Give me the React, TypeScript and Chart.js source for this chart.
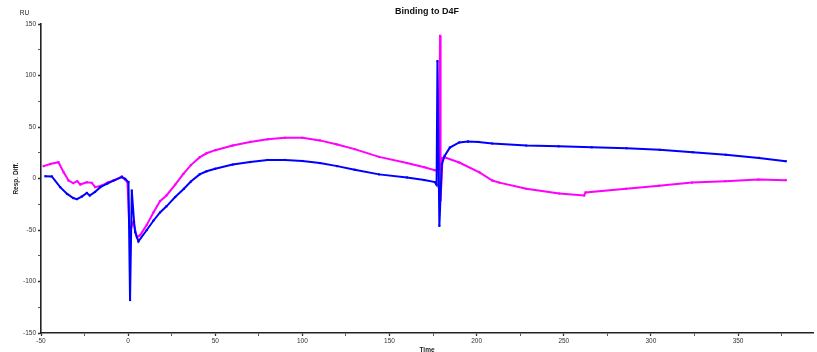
import React, { useEffect, useRef } from "react";
import { Chart, registerables } from "chart.js";

Chart.register(...registerables);

const chartTitle = "Binding to D4F";
const xTitle = "Time";
const yTitle = "Resp. Diff.";
const yUnit = "RU";

const blueTime = [-47.5, -43.8, -39, -35, -31.5, -29.4, -26.6, -23.7, -22, -19, -16, -12, -8.4, -3.6, -1.7, 0.2, 1.1, 2.1, 3.4, 4, 5.9, 10.7, 14.5, 18.3, 22, 27, 32, 36, 41, 45, 50, 60, 70, 80, 90, 100, 110, 120, 130, 144, 160, 170, 176, 177, 177.5, 178.6, 180, 181.6, 184.6, 190, 195, 201, 209, 228.5, 247, 266, 286, 305, 324, 343, 362, 377.4];
const blueResp = [2.2, 2, -8.4, -15, -19, -20, -17.5, -14, -16.5, -13, -8.4, -5, -2, 1.3, -0.3, -3.5, -118, -11.6, -42, -52, -61, -50, -41, -33, -27, -18, -10, -3, 4, 7, 9.5, 13.5, 16, 18, 18, 17, 15, 12, 8.5, 4, 1, -1.5, -3.5, -6, 114, -46, 14, 22, 30, 35, 36, 35.5, 34, 32, 31.2, 30.3, 29.4, 27.8, 25.5, 23, 20, 16.8];

const magentaTime = [-48.5, -44.7, -40, -37, -34.2, -31.5, -29.2, -27.5, -23.7, -20.8, -18.9, -15, -11.3, -7.4, -3.6, -0.4, 0.7, 1.7, 3, 5, 6.9, 10.7, 14.5, 18.3, 22, 27, 31.7, 36, 41, 45, 50, 60, 70, 80, 90, 100, 110, 120, 130, 144, 160, 170, 176, 178.2, 179, 179.3, 180.4, 181.6, 190, 201.6, 209, 213, 228.5, 247.4, 261.7, 262.5, 285.8, 304.7, 323.6, 342.7, 361.6, 377.4];
const magentaResp = [12, 14, 15.8, 6, -2, -4.5, -2.6, -5.8, -3.6, -4.2, -8.4, -6.8, -3.6, -1.3, 2, -3.6, -47, -48, -42, -57, -55, -45, -33, -22, -16.5, -6, 4.5, 13, 20.5, 24.5, 27.5, 32, 35.5, 38, 39.5, 39.5, 37, 33, 28.5, 21, 15, 11, 8, 9, 138.6, -21, 20, 20.6, 15.5, 6, -2, -4, -10, -14.5, -16.5, -13.5, -10, -7, -4, -2.6, -1, -1.6];

const xMin = -50;
const xMax = 393;
const yMin = -150;
const yMax = 150;

const FONT = "'Liberation Sans', Arial, sans-serif";

function pts(xs: number[], ys: number[]) {
  return xs.map((x, i) => ({ x, y: ys[i] }));
}

const unitLabel = {
  id: "unitLabel",
  afterDraw(chart: any) {
    const ctx = chart.ctx;
    const ya = chart.scales.y;
    ctx.save();
    ctx.font = `6.5px ${FONT}`;
    ctx.fillStyle = "#222";
    ctx.textAlign = "center";
    ctx.textBaseline = "middle";
    ctx.fillText(yUnit, ya.left + 24.5, ya.top - 10.5);
    ctx.restore();
  },
};

const tickW = (c: any) => {
  const v = c.tick ? c.tick.value : 0;
  if (v % 50 === 0) return 1.3;
  if (v % 25 === 0) return 0.8;
  return 0;
};

export default function App() {
  const ref = useRef<HTMLCanvasElement>(null);
  useEffect(() => {
    if (!ref.current) return;
    const common = {
      borderWidth: 2,
      pointStyle: "rect",
      pointRadius: 1.5,
      pointBorderWidth: 0,
      tension: 0,
    };
    const chart = new Chart(ref.current, {
      type: "line",
      data: {
        datasets: [
          {
            label: "blue",
            data: pts(blueTime, blueResp),
            borderColor: "#0000ff",
            backgroundColor: "#0000ff",
            ...common,
          },
          {
            label: "magenta",
            data: pts(magentaTime, magentaResp),
            borderColor: "#ff00ff",
            backgroundColor: "#ff00ff",
            ...common,
          },
        ],
      },
      options: {
        responsive: false,
        animation: false,
        layout: { padding: { left: 0, right: 0, top: 0, bottom: 0 } },
        plugins: {
          legend: { display: false },
          tooltip: { enabled: false },
          title: {
            display: true,
            text: chartTitle,
            fullSize: false,
            color: "#111",
            font: { family: FONT, size: 9, weight: "bold", lineHeight: 1.2 },
            padding: { top: 6.6, bottom: 6.6 },
          },
        },
        scales: {
          x: {
            type: "linear",
            min: xMin,
            max: xMax,
            afterFit: (s: any) => {
              s.height = 19;
            },
            border: { display: true, color: "#222", width: 1.6 },
            grid: {
              drawOnChartArea: false,
              tickLength: 3,
              tickColor: "#333",
              tickWidth: tickW,
            },
            ticks: {
              stepSize: 25,
              autoSkip: false,
              maxRotation: 0,
              padding: 1,
              color: "#333",
              font: { family: FONT, size: 6.5 },
              callback: (v: any) => (Number(v) % 50 === 0 ? String(v) : ""),
            },
            title: {
              display: true,
              text: xTitle,
              color: "#222",
              font: { family: FONT, size: 6.5, weight: "bold", lineHeight: 1 },
              padding: { top: 0, bottom: -1 },
            },
          },
          y: {
            type: "linear",
            min: yMin,
            max: yMax,
            afterFit: (s: any) => {
              s.width = 41;
            },
            border: { display: true, color: "#222", width: 1.6 },
            grid: {
              drawOnChartArea: false,
              tickLength: 3,
              tickColor: "#333",
              tickWidth: tickW,
            },
            ticks: {
              stepSize: 25,
              autoSkip: false,
              padding: 2,
              color: "#333",
              font: { family: FONT, size: 6.5 },
              callback: (v: any) => (Number(v) % 50 === 0 ? String(v) : ""),
            },
            title: {
              display: true,
              text: yTitle,
              color: "#222",
              font: { family: FONT, size: 6.5, weight: "bold", lineHeight: 1.2 },
              padding: { top: 12, bottom: 0 },
            },
          },
        },
      },
      plugins: [unitLabel],
    } as any);
    return () => chart.destroy();
  }, []);
  return (
    <div style={{ position: "fixed", left: 0, top: 0, width: 817, height: 352, background: "#fff" }}>
      <canvas ref={ref} width={817} height={352} style={{ display: "block" }} />
    </div>
  );
}
